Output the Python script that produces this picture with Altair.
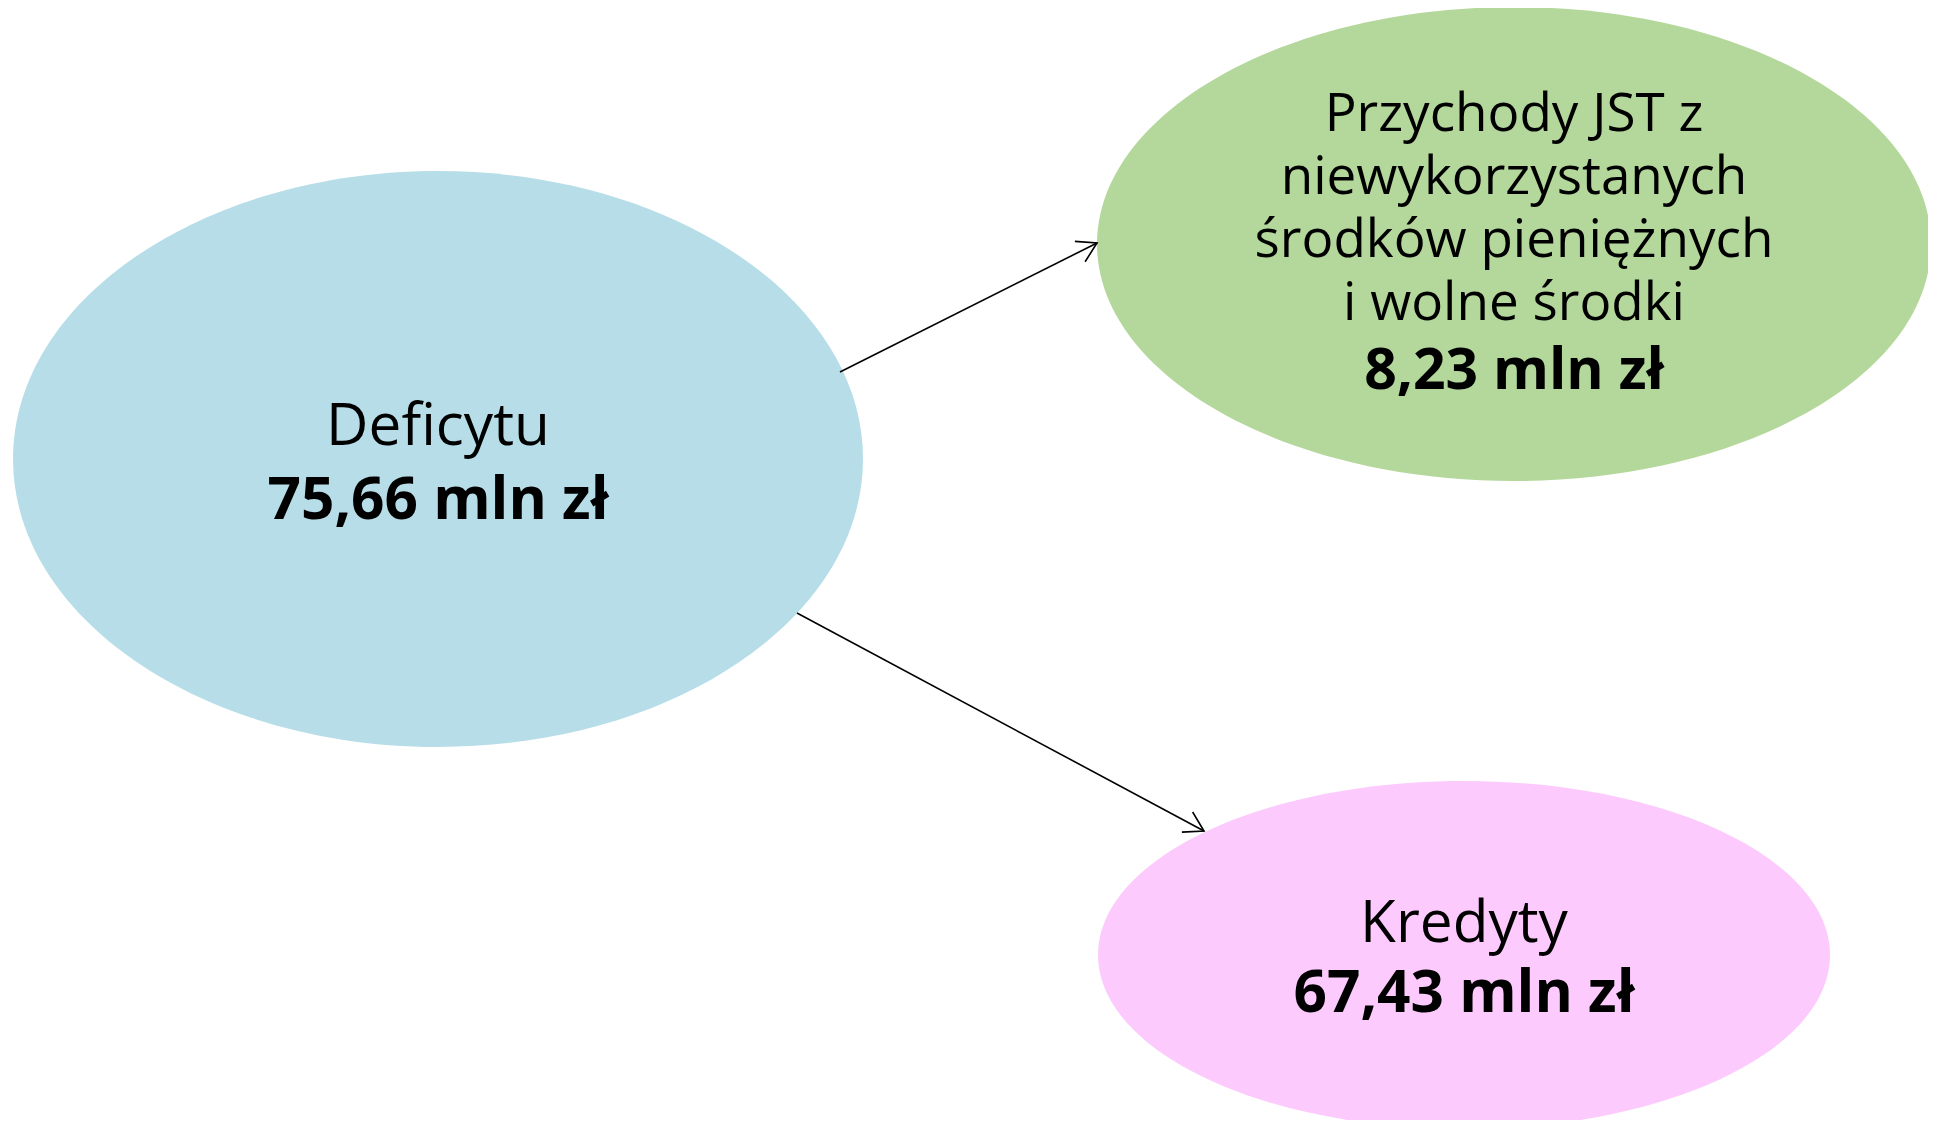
import altair as alt
import numpy as np
import pandas as pd

# ---- data (diagram nodes, in page-like coordinates) ----
node_label = ["Deficytu",
              "Przychody JST z\nniewykorzystanych\nśrodków pieniężnych\ni wolne środki",
              "Kredyty"]
node_value = ["75,66 mln zł", "8,23 mln zł", "67,43 mln zł"]
node_cx = [430, 1506, 1456]
node_cy = [451, 236, 947]
node_rx = [425, 417, 366]
node_ry = [288, 237, 174]
node_color = ["#B7DEE8", "#B4D89C", "#FCCAFC"]
label_size = [58.5, 53, 58.5]
value_size = [58.5, 57, 58.5]
label_y = [437, 123, 934]
value_y = [511, 381, 1004]

arrow_x1 = [832, 789]
arrow_y1 = [364, 605]
arrow_x2 = [1089, 1196]
arrow_y2 = [235, 823]

W, H = 1920, 1112

def ellipse_path(h, k=0.5523):
    return (f"M -1 0 C -1 {-k*h:.4f} {-k:.4f} {-h:.4f} 0 {-h:.4f} "
            f"C {k:.4f} {-h:.4f} 1 {-k*h:.4f} 1 0 "
            f"C 1 {k*h:.4f} {k:.4f} {h:.4f} 0 {h:.4f} "
            f"C {-k:.4f} {h:.4f} -1 {k*h:.4f} -1 0 Z")

nodes = pd.DataFrame({
    "label": [l.split("\n") for l in node_label],
    "value": node_value,
    "cx": node_cx, "cy": node_cy,
    "rx": node_rx, "ry": node_ry,
    "color": node_color,
    "ls": label_size, "vs": value_size,
    "ly": label_y, "vy": value_y,
})
nodes["shape"] = [ellipse_path(ry / rx) for rx, ry in zip(node_rx, node_ry)]
nodes["size"] = [(2 * rx) ** 2 for rx in node_rx]

arrows = pd.DataFrame({"x1": arrow_x1, "y1": arrow_y1, "x2": arrow_x2, "y2": arrow_y2})
arrows["angle"] = (np.degrees(np.arctan2(arrows["y2"] - arrows["y1"],
                                         arrows["x2"] - arrows["x1"])) + 360) % 360

xs = alt.Scale(domain=[0, W], nice=False, zero=False)
ys = alt.Scale(domain=[0, H], nice=False, zero=False, reverse=True)
X = lambda f: alt.X(f, type="quantitative", scale=xs, axis=None)
Y = lambda f: alt.Y(f, type="quantitative", scale=ys, axis=None)

base_n = alt.Chart(nodes)

ellipses = base_n.mark_point(filled=True, opacity=1, strokeWidth=0).encode(
    x=X("cx"), y=Y("cy"),
    shape=alt.Shape("shape:N", scale=None),
    size=alt.Size("size:Q", scale=None),
    color=alt.Color("color:N", scale=None),
)

labels = base_n.mark_text(font="Open Sans", lineHeight=63,
                          align="center", baseline="alphabetic", color="black").encode(
    x=X("cx"), y=Y("ly"), text="label",
    size=alt.Size("ls:Q", scale=None),
)
values = base_n.mark_text(font="Open Sans", fontWeight="bold",
                          align="center", baseline="alphabetic", color="black").encode(
    x=X("cx"), y=Y("vy"), text="value:N",
    size=alt.Size("vs:Q", scale=None),
)

base_a = alt.Chart(arrows)
lines = base_a.mark_rule(color="black", strokeWidth=1.6).encode(
    x=X("x1"), y=Y("y1"), x2="x2", y2="y2"
)
heads = base_a.mark_point(shape="M -1 -0.6 L 0 0 L -1 0.6", filled=False,
                          color="black", strokeWidth=1.6, opacity=1, size=1444).encode(
    x=X("x2"), y=Y("y2"), angle=alt.Angle("angle:Q", scale=None)
)

chart = alt.layer(ellipses, lines, heads, labels, values).properties(
    width=W, height=H, padding=0,
    autosize=alt.AutoSizeParams(type="none"),
).configure_view(stroke=None)

chart.save("out.html", embed_options={"renderer": "svg", "actions": False})
